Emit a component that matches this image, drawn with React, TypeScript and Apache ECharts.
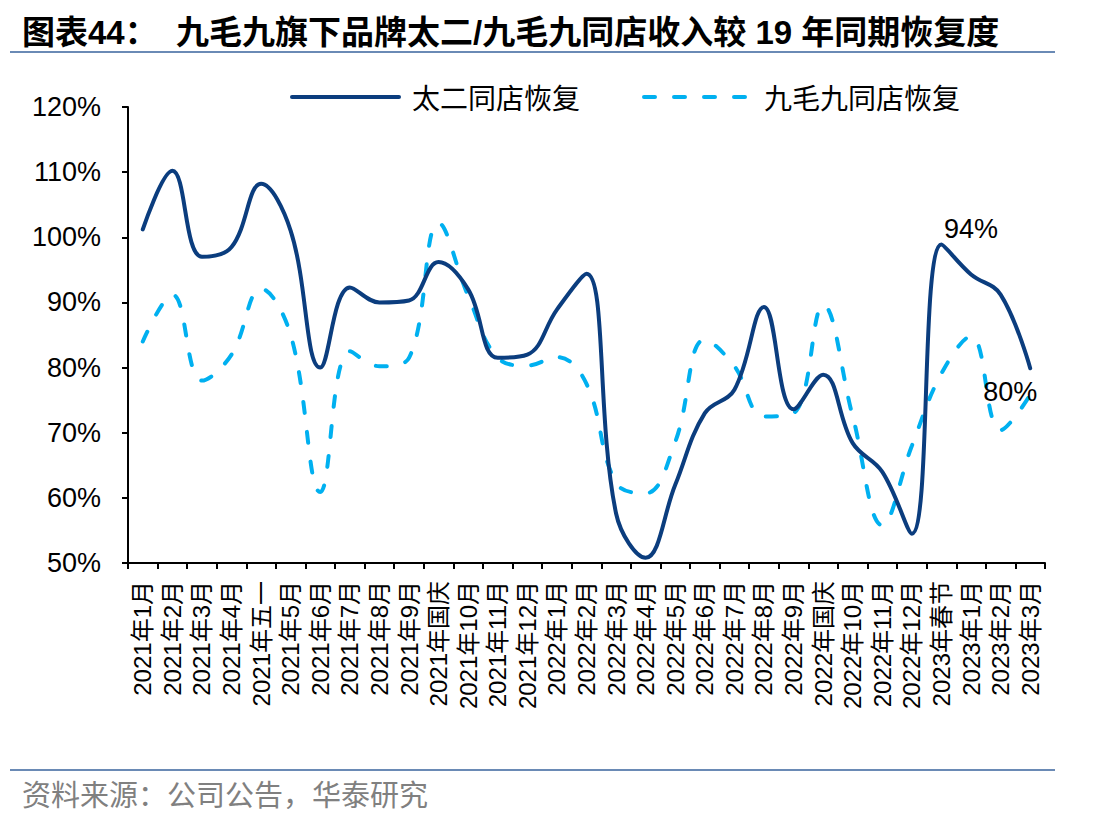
import React, { useEffect, useRef } from "react";
import * as echarts from "echarts";

const categories = [
  "2021年1月", "2021年2月", "2021年3月", "2021年4月", "2021年五一", "2021年5月",
  "2021年6月", "2021年7月", "2021年8月", "2021年9月", "2021年国庆", "2021年10月",
  "2021年11月", "2021年12月", "2022年1月", "2022年2月", "2022年3月", "2022年4月",
  "2022年5月", "2022年6月", "2022年7月", "2022年8月", "2022年9月", "2022年国庆",
  "2022年10月", "2022年11月", "2022年12月", "2023年春节", "2023年1月", "2023年2月",
  "2023年3月",
];

const taierValues = [
  101.2, 110.2, 97, 98.5, 108.2, 101, 80, 92.3, 90, 90.3, 96.2, 92, 81.5, 82,
  88.9, 94.4, 57.6, 50.8, 62, 73, 76.6, 89.3, 73.6, 78.9, 68.4, 64, 54.5, 98.9,
  94.3, 91.2, 79.9,
];

const jiumaojiuValues = [
  84, 91.2, 78, 82, 92.1, 85, 60.9, 82.5, 80.2, 81.5, 102.2, 91, 81.5, 80.3,
  81.6, 77.5, 62.3, 60.7, 68.6, 84.3, 80.2, 72.5, 73, 89.6, 72.5, 55.8, 68, 79.1,
  84.8, 70.4, 75.8,
];

const yTicks = [50, 60, 70, 80, 90, 100, 110, 120];

const seriesNames = ["太二同店恢复", "九毛九同店恢复"];
const titleText = "图表44：  九毛九旗下品牌太二/九毛九同店收入较 19 年同期恢复度";
const sourceText = "资料来源：公司公告，华泰研究";

// labelled points of 太二 series: index, text, label offset
const taierLabelIdx = [28, 30];
const taierLabelText = ["94%", "80%"];
const taierLabelOffset = [
  [0, -45],
  [-20, 24],
];

const DARK = "#0b3d7e";
const LIGHT = "#00b0f0";
const RULE = "#6a8ab5";
const FONT = '"Liberation Sans", Arial, "Noto Sans CJK SC", sans-serif';
const CJK = '"Noto Sans CJK SC", sans-serif';

export default function App() {
  const ref = useRef<HTMLDivElement>(null);

  useEffect(() => {
    if (!ref.current) return;
    const chart = echarts.init(ref.current, null, { renderer: "svg" });

    chart.setOption({
      animation: false,
      backgroundColor: "#fff",
      textStyle: { fontFamily: FONT },
      graphic: [
        {
          type: "text",
          left: 22,
          top: 16,
          style: {
            text: titleText,
            fontSize: 33,
            fontWeight: "bold",
            fill: "#000",
            fontFamily: '"Liberation Sans", "Noto Sans CJK SC", sans-serif',
          },
        },
        {
          type: "line",
          shape: { x1: 10, y1: 52, x2: 1055, y2: 52 },
          style: { stroke: RULE, lineWidth: 2 },
        },
        {
          type: "line",
          shape: { x1: 10, y1: 770, x2: 1055, y2: 770 },
          style: { stroke: RULE, lineWidth: 2 },
        },
        {
          type: "text",
          left: 22,
          top: 778,
          style: {
            text: sourceText,
            fontSize: 29,
            fill: "#808080",
            fontFamily: CJK,
          },
        },
      ],
      legend: {
        left: 285,
        top: 78,
        itemWidth: 107,
        itemHeight: 14,
        itemGap: 62,
        data: seriesNames,
        itemStyle: { opacity: 0 },
        lineStyle: { width: 4 },
        textStyle: {
          fontSize: 28,
          color: "#000",
          fontFamily: CJK,
          padding: [4, 0, 0, 8],
        },
      },
      grid: { left: 128, right: 67, top: 107, bottom: 262, containLabel: false },
      xAxis: {
        type: "category",
        data: categories,
        boundaryGap: true,
        axisLine: { lineStyle: { color: "#000", width: 2 } },
        axisTick: { show: true, inside: false, length: 6, lineStyle: { color: "#000", width: 2 } },
        axisLabel: {
          interval: 0,
          rotate: 90,
          fontSize: 24,
          color: "#000",
          margin: 18,
          fontFamily: FONT,
        },
        splitLine: { show: false },
      },
      yAxis: {
        type: "value",
        min: yTicks[0],
        max: yTicks[yTicks.length - 1],
        interval: 10,
        axisLine: { show: true, lineStyle: { color: "#000", width: 2 } },
        axisTick: { show: true, length: 6, lineStyle: { color: "#000", width: 2 } },
        axisLabel: {
          formatter: "{value}%",
          fontSize: 27,
          color: "#000",
          margin: 27,
          fontFamily: FONT,
        },
        splitLine: { show: false },
      },
      series: [
        {
          name: seriesNames[0],
          type: "line",
          data: taierValues,
          smooth: 0.4,
          symbol: "none",
          lineStyle: { color: DARK, width: 4, cap: "round" },
          itemStyle: { color: DARK },
          z: 3,
          markPoint: {
            symbol: "circle",
            symbolSize: 0,
            silent: true,
            data: taierLabelIdx.map((idx, k) => ({
              xAxis: idx,
              yAxis: taierValues[idx],
              label: {
                show: true,
                position: "inside",
                formatter: taierLabelText[k],
                offset: taierLabelOffset[k],
                fontSize: 27,
                color: "#000",
                fontFamily: FONT,
              },
            })),
          },
        },
        {
          name: seriesNames[1],
          type: "line",
          data: jiumaojiuValues,
          smooth: 0.4,
          symbol: "none",
          lineStyle: { color: LIGHT, width: 4, type: [11, 19], cap: "round" },
          itemStyle: { color: LIGHT },
          z: 2,
        },
      ],
    });

    return () => chart.dispose();
  }, []);

  return (
    <div
      ref={ref}
      style={{ position: "absolute", left: 0, top: 0, width: 1112, height: 825 }}
    />
  );
}
